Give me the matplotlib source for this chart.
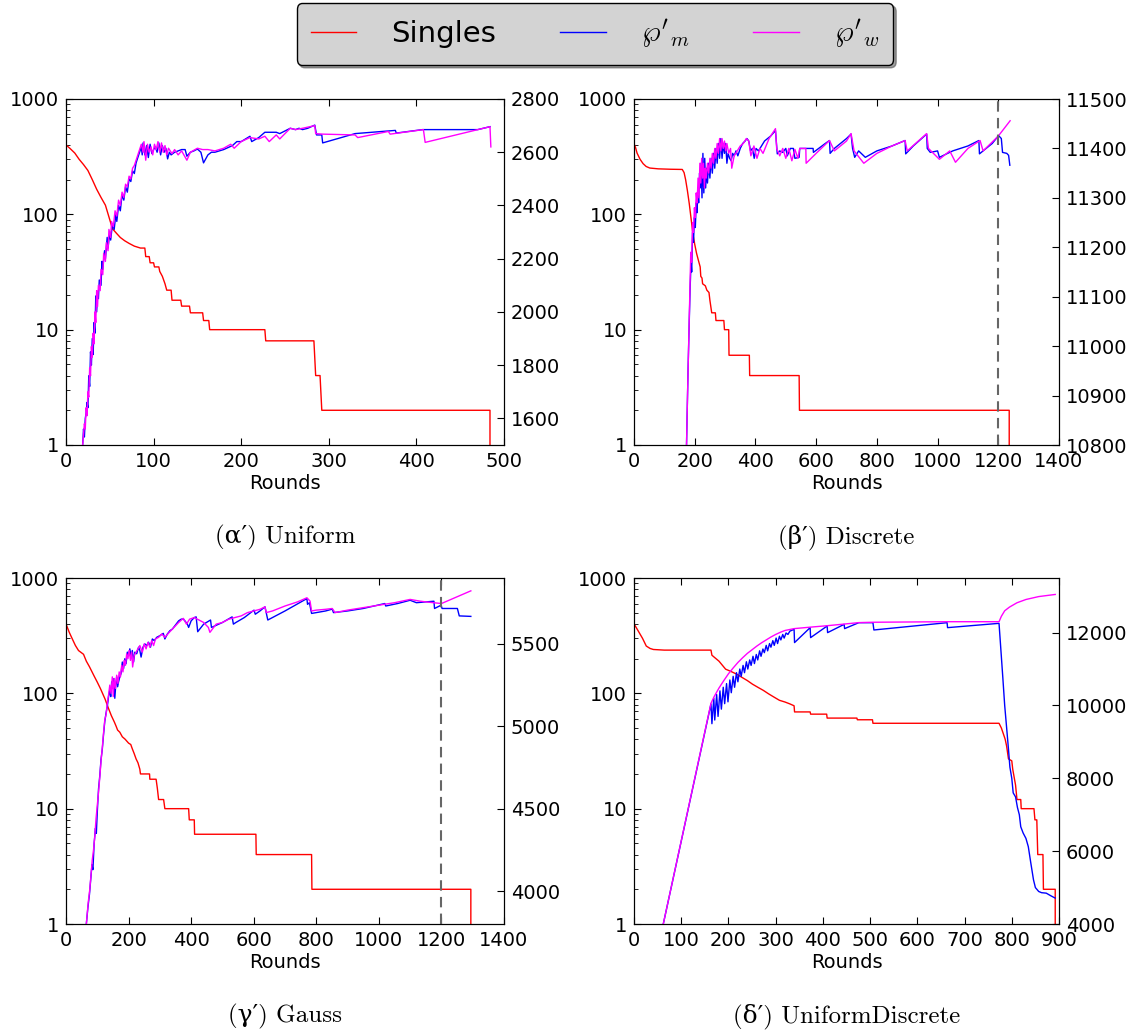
import numpy as np
import matplotlib
matplotlib.use("Agg")
import matplotlib.pyplot as plt
from matplotlib.ticker import FuncFormatter, LogLocator, MultipleLocator

plt.rcParams['mathtext.fontset'] = 'cm'
plt.rcParams['font.size'] = 14

# ---------------- data ----------------

# (a') Uniform
uni_singles_x = [0, 5, 10, 15, 20, 25, 30, 35, 40, 45, 49, 53, 58, 62, 67, 72, 78, 85, 90, 91, 95, 96, 100, 101,
                 106, 107, 110, 113, 115, 120, 121, 131, 132, 141, 142, 156, 157, 163, 164, 227, 228, 283, 285, 290,
                 292, 484, 484]
uni_singles_y = [400, 370, 340, 300, 270, 240, 200, 165, 140, 120, 95, 75, 68, 63, 59, 56, 53, 51, 51, 43, 43, 38, 38, 35,
                 35, 32, 29, 25, 22, 22, 18, 18, 16, 16, 14, 14, 12, 12, 10, 10, 8, 8, 4, 4,
                 2, 2, 1]
uni_m_x = [19, 20, 21, 22, 23, 24, 25, 26, 27, 28, 29, 30, 31, 32, 33, 34, 35, 36, 37, 38, 40, 41, 42, 44, 45, 47, 48,
           50, 51, 53, 55, 57, 58, 60, 62, 64, 66, 68, 70, 72, 74, 76, 78, 80, 82, 84, 86, 87, 88, 90, 92, 94, 96, 98,
           100, 102, 104, 106, 108, 110, 112, 114, 116, 118, 120, 124, 128, 132, 136, 138, 142, 146, 150, 154, 157,
           162, 166, 170, 175, 180, 190, 195, 200, 205, 210, 212, 220, 227, 240, 244, 250, 256, 262, 266, 270, 276,
           284, 286, 292, 293, 330, 376, 377, 407, 470, 484]
uni_m_y = [1500, 1560, 1530, 1600, 1620, 1660, 1640, 1760, 1720, 1850, 1800, 1900, 1840, 1960, 1920, 2060, 2000, 2070,
           2050, 2120, 2100, 2190, 2160, 2230, 2200, 2280, 2240, 2300, 2270, 2330, 2310, 2370, 2340, 2400, 2380, 2440,
           2420, 2470, 2450, 2500, 2490, 2530, 2520, 2560, 2580, 2600, 2620, 2590, 2635, 2590, 2625, 2580, 2630, 2595,
           2610, 2620, 2600, 2635, 2590, 2625, 2600, 2615, 2575, 2600, 2590, 2600, 2605, 2610, 2610, 2585, 2600, 2605,
           2612, 2600, 2560, 2590, 2600, 2600, 2605, 2610, 2625, 2640, 2640, 2650, 2660, 2640, 2655, 2675, 2675, 2670,
           2680, 2690, 2685, 2690, 2685, 2690, 2702, 2665, 2665, 2635, 2670, 2682, 2672, 2685, 2685, 2696]
uni_w_x = [19, 20, 21, 22, 23, 24, 25, 26, 27, 28, 29, 30, 31, 32, 33, 34, 35, 36, 37, 39, 40, 42, 43, 45, 46, 48, 49,
           51, 52, 54, 56, 58, 60, 62, 64, 66, 68, 70, 72, 74, 76, 78, 80, 82, 84, 86, 88, 89, 91, 93, 95, 97, 99, 101,
           103, 105, 107, 109, 111, 113, 115, 117, 121, 124, 128, 132, 138, 142, 150, 156, 162, 170, 180, 188, 192,
           200, 210, 220, 227, 232, 240, 244, 250, 256, 262, 270, 284, 285, 293, 330, 333, 368, 370, 408, 410, 484, 485]
uni_w_y = [1500, 1540, 1580, 1560, 1640, 1610, 1700, 1680, 1790, 1760, 1870, 1830, 1920, 1880, 2000, 1960, 2080, 2020,
           2100, 2080, 2160, 2140, 2220, 2190, 2260, 2230, 2310, 2280, 2340, 2320, 2380, 2360, 2420, 2400, 2450, 2430,
           2480, 2470, 2510, 2500, 2540, 2550, 2570, 2590, 2610, 2630, 2600, 2640, 2570, 2630, 2600, 2620, 2590, 2630,
           2610, 2640, 2600, 2635, 2600, 2625, 2590, 2615, 2595, 2610, 2590, 2605, 2570, 2600, 2615, 2610, 2610, 2605,
           2615, 2630, 2615, 2640, 2655, 2650, 2660, 2640, 2665, 2650, 2670, 2690, 2685, 2690, 2700, 2670, 2668, 2665,
           2655, 2678, 2668, 2685, 2637, 2696, 2620]

# (b') Discrete
dis_singles_x = [0, 5, 10, 20, 30, 40, 52, 80, 120, 159, 165, 170, 176, 182, 188, 194, 200, 206, 212, 218, 220, 224,
                 226, 235, 240, 247, 250, 256, 268, 270, 296, 298, 312, 313, 380, 381, 544, 545, 1236, 1236]
dis_singles_y = [410, 380, 340, 300, 275, 260, 252, 248, 246, 245, 230, 200, 160, 124, 92, 68, 55, 46, 40, 35, 29, 28,
                 25, 24, 22, 21, 18, 14, 14, 12, 12, 10, 10, 6, 6, 4, 4, 2, 2, 1]
dis_m_x = [173, 178, 182, 185, 188, 190, 193, 196, 199, 202, 205, 208, 210, 213, 216, 218, 221, 224, 227, 230, 233,
           236, 239, 242, 246, 250, 254, 258, 262, 266, 270, 274, 278, 282, 286, 290, 294, 298, 302, 306, 310, 315,
           320, 325, 330, 336, 342, 350, 358, 366, 372, 378, 384, 390, 396, 402, 410, 420, 430, 440, 450, 466, 472,
           480, 490, 500, 505, 515, 525, 530, 544, 546, 590, 591, 630, 644, 646, 660, 700, 715, 720, 727, 740, 762,
           800, 850, 893, 895, 920, 964, 966, 976, 1000, 1006, 1050, 1100, 1136, 1138, 1180, 1201, 1210, 1214, 1228,
           1234, 1238]
dis_m_y = [10800, 10950, 11050, 11120, 11170, 11150, 11230, 11210, 11260, 11240, 11290, 11270, 11320, 11290, 11350,
           11320, 11370, 11300, 11390, 11310, 11380, 11320, 11360, 11330, 11370, 11340, 11380, 11350, 11390, 11360,
           11400, 11370, 11410, 11380, 11420, 11380, 11410, 11390, 11410, 11370, 11390, 11380, 11375, 11390, 11385,
           11395, 11385, 11400, 11410, 11415, 11420, 11415, 11395, 11400, 11380, 11400, 11395, 11405, 11415, 11420,
           11425, 11436, 11389, 11395, 11392, 11400, 11385, 11400, 11400, 11380, 11382, 11400, 11400, 11392, 11410,
           11416, 11390, 11400, 11420, 11429, 11400, 11382, 11395, 11382, 11395, 11405, 11416, 11389, 11405, 11429,
           11400, 11392, 11395, 11382, 11395, 11405, 11416, 11389, 11410, 11426, 11420, 11392, 11390, 11386, 11366]
dis_w_x = [173, 177, 181, 184, 187, 190, 193, 196, 199, 202, 205, 208, 211, 214, 217, 220, 223, 226, 229, 232, 235,
           238, 242, 246, 250, 254, 258, 262, 266, 270, 274, 278, 282, 286, 290, 294, 298, 302, 306, 312, 318, 322,
           330, 340, 350, 360, 370, 378, 385, 395, 405, 415, 425, 435, 445, 466, 470, 480, 490, 500, 510, 520, 530,
           540, 546, 566, 567, 600, 644, 660, 700, 715, 725, 757, 800, 850, 893, 900, 964, 970, 1006, 1040, 1059,
           1100, 1140, 1150, 1200, 1239]
dis_w_y = [10800, 10920, 11030, 11110, 11190, 11170, 11250, 11230, 11280, 11260, 11310, 11290, 11340, 11300, 11370,
           11330, 11380, 11340, 11370, 11320, 11360, 11340, 11370, 11350, 11380, 11360, 11390, 11370, 11400, 11380,
           11410, 11390, 11420, 11395, 11420, 11400, 11415, 11395, 11410, 11390, 11400, 11360, 11385, 11395, 11405,
           11410, 11420, 11415, 11385, 11405, 11380, 11400, 11390, 11405, 11420, 11440, 11400, 11385, 11400, 11380,
           11400, 11375, 11398, 11380, 11400, 11400, 11370, 11390, 11416, 11395, 11415, 11430, 11395, 11370, 11390,
           11405, 11416, 11395, 11430, 11400, 11378, 11395, 11372, 11400, 11416, 11395, 11425, 11456]

# (c') Gauss
gau_singles_x = [0, 10, 21, 30, 40, 56, 65, 75, 90, 100, 110, 125, 135, 145, 155, 160, 165, 172, 180, 189, 200, 207,
                 212, 218, 224, 230, 236, 238, 267, 268, 288, 292, 296, 312, 316, 392, 394, 410, 411, 607, 608, 785,
                 786, 1294, 1294]
gau_singles_y = [400, 340, 293, 260, 235, 218, 190, 170, 141, 125, 110, 89, 75, 64, 56, 52, 48, 46, 42, 40, 37, 36,
                 33, 30, 27, 25, 22, 20, 20, 18, 18, 15, 12, 12, 10, 10, 8, 8, 6, 6, 4, 4,
                 2, 2, 1]
gau_m_x = [65, 70, 75, 79, 83, 86, 90, 94, 97, 100, 104, 108, 112, 116, 120, 124, 128, 132, 136, 140, 143, 146, 150,
           153, 156, 159, 162, 165, 168, 172, 176, 180, 184, 188, 192, 196, 200, 204, 208, 212, 216, 220, 226, 232,
           236, 240, 246, 252, 258, 264, 270, 276, 282, 290, 300, 311, 316, 324, 332, 340, 346, 352, 360, 368, 375,
           380, 388, 392, 400, 410, 416, 421, 440, 462, 465, 500, 531, 535, 543, 570, 601, 605, 620, 636, 645, 700,
           770, 772, 778, 785, 830, 851, 855, 900, 950, 1019, 1022, 1060, 1100, 1120, 1150, 1176, 1178, 1199, 1202,
           1251, 1257, 1294]
gau_m_y = [3800, 3900, 3980, 4070, 4160, 4130, 4290, 4380, 4350, 4480, 4620, 4700, 4800, 4860, 4950, 5030, 5080, 5120,
           5180, 5220, 5180, 5270, 5230, 5290, 5170, 5250, 5300, 5240, 5270, 5300, 5320, 5390, 5350, 5410, 5380, 5450,
           5430, 5470, 5420, 5460, 5390, 5450, 5440, 5480, 5460, 5420, 5480, 5500, 5490, 5510, 5480, 5530, 5520, 5540,
           5550, 5564, 5530, 5560, 5580, 5590, 5605, 5620, 5640, 5650, 5651, 5640, 5620, 5600, 5640, 5660, 5664, 5574,
           5620, 5645, 5600, 5630, 5664, 5620, 5630, 5660, 5705, 5680, 5700, 5725, 5645, 5700, 5775, 5740, 5750, 5685,
           5700, 5711, 5690, 5700, 5715, 5745, 5730, 5745, 5765, 5750, 5755, 5759, 5715, 5735, 5715, 5715, 5670, 5667]
gau_w_x = [65, 71, 76, 80, 84, 88, 92, 96, 100, 104, 108, 112, 116, 120, 124, 128, 132, 136, 140, 144, 148, 151, 154,
           158, 162, 166, 170, 174, 178, 182, 186, 190, 194, 198, 202, 206, 210, 213, 218, 224, 230, 236, 244, 250,
           256, 262, 268, 274, 280, 286, 296, 306, 316, 330, 345, 360, 375, 385, 395, 410, 420, 440, 455, 460, 480,
           500, 520, 540, 560, 580, 600, 620, 636, 640, 660, 700, 740, 770, 780, 785, 800, 830, 851, 860, 900, 950,
           1000, 1050, 1100, 1130, 1150, 1200, 1294]
gau_w_y = [3800, 3930, 4010, 4100, 4190, 4250, 4330, 4440, 4520, 4600, 4690, 4790, 4870, 4960, 5040, 5070, 5140, 5190,
           5250, 5200, 5300, 5180, 5290, 5230, 5310, 5260, 5330, 5300, 5370, 5330, 5400, 5370, 5440, 5410, 5460, 5400,
           5450, 5360, 5430, 5450, 5470, 5490, 5450, 5500, 5470, 5510, 5480, 5520, 5490, 5530, 5540, 5560, 5540, 5570,
           5600, 5630, 5655, 5620, 5650, 5660, 5650, 5630, 5600, 5570, 5620, 5630, 5650, 5660, 5670, 5690, 5700, 5710,
           5725, 5690, 5700, 5730, 5755, 5780, 5760, 5700, 5705, 5710, 5715, 5690, 5705, 5720, 5735, 5750, 5770, 5760,
           5755, 5745, 5822]

# (d') UniformDiscrete
ud_singles_x = [0, 5, 11, 18, 26, 34, 41, 64, 163, 165, 171, 180, 194, 205, 217, 228, 240, 251, 262, 274, 285, 296,
                308, 320, 330, 339, 340, 373, 374, 408, 409, 472, 473, 505, 506, 773, 778, 781, 786, 789, 793, 800,
                802, 808, 811, 819, 820, 847, 849, 853, 855, 866, 867, 892, 892]
ud_singles_y = [400, 370, 336, 300, 257, 245, 240, 237, 237, 214, 204, 190, 162, 155, 147, 138, 129, 120, 113, 106, 99,
                93, 87, 84, 81, 78, 69, 69, 66, 66, 61, 61, 59, 59, 55, 55, 50, 46, 40, 35, 27, 26,
                22, 16, 12, 12, 10, 10, 8, 8, 4, 4, 2, 2, 1]
ud_m_x = [62, 163, 165, 169, 171, 175, 178, 182, 185, 189, 192, 196, 199, 203, 206, 210, 213, 217, 220, 224, 227, 231,
          234, 238, 241, 245, 248, 252, 255, 259, 262, 266, 269, 273, 276, 280, 283, 287, 290, 294, 297, 301, 304, 308,
          311, 315, 318, 322, 326, 330, 339, 340, 373, 374, 409, 410, 445, 446, 476, 506, 508, 663, 664, 773, 776,
          781, 785, 789, 793, 796, 800, 803, 808, 812, 816, 819, 824, 830, 835, 840, 846, 850, 857, 863, 873, 882,
          892]
ud_m_y = [4000, 10040, 9500, 10200, 9600, 10300, 9700, 10400, 9900, 10500, 10050, 10600, 10100, 10700, 10350, 10800,
          10500, 10900, 10650, 11000, 10800, 11100, 10900, 11200, 11000, 11250, 11100, 11350, 11150, 11400, 11250,
          11500, 11350, 11550, 11450, 11650, 11500, 11700, 11600, 11780, 11650, 11850, 11700, 11900, 11800, 11950,
          11850, 11990, 11950, 12040, 12091, 11727, 12137, 11863, 12182, 12000, 12228, 12110, 12273, 12273, 12073,
          12273, 12137, 12255, 11700, 10770, 10000, 9403, 8800, 8310, 8000, 7600, 7490, 7200, 7000, 6670, 6500, 6350,
          6123, 5700, 5212, 5000, 4893, 4860, 4847, 4780, 4711]
ud_w_x = [62, 163, 170, 180, 190, 200, 210, 220, 230, 240, 250, 260, 270, 280, 290, 300, 310, 320, 339, 373, 409, 445,
          476, 506, 663, 773, 778, 785, 795, 811, 830, 857, 892]
ud_w_y = [4000, 10060, 10250, 10480, 10680, 10870, 11030, 11180, 11310, 11430, 11530, 11630, 11720, 11800, 11880,
          11950, 12010, 12060, 12110, 12150, 12190, 12235, 12275, 12285, 12300, 12300, 12450, 12600, 12700, 12820,
          12910, 12990, 13048]

captions = [u"(\u03b1\u2032) Uniform", u"(\u03b2\u2032) Discrete", u"(\u03b3\u2032) Gauss", u"(\u03b4\u2032) UniformDiscrete"]
legend_labels = ["Singles", r"$\wp'_m$", r"$\wp'_w$"]

# ---------------- figure ----------------
fig = plt.figure(figsize=(11.34, 10.31), dpi=100)

W, H = 1134.0, 1031.0
# axes boxes in pixels: left, right, top, bottom
boxes = [(66, 504, 99, 445), (634, 1059, 99, 445), (66, 504, 578, 924), (634, 1059, 578, 924)]

panels = [
    (uni_singles_x, uni_singles_y, uni_m_x, uni_m_y, uni_w_x, uni_w_y, 500, 100, (1500, 2800), 200, None),
    (dis_singles_x, dis_singles_y, dis_m_x, dis_m_y, dis_w_x, dis_w_y, 1400, 200, (10800, 11500), 100, 1200),
    (gau_singles_x, gau_singles_y, gau_m_x, gau_m_y, gau_w_x, gau_w_y, 1400, 200, (3800, 5900), 500, 1200),
    (ud_singles_x, ud_singles_y, ud_m_x, ud_m_y, ud_w_x, ud_w_y, 900, 100, (4000, 13500), 2000, None),
]

handles = None
for (l, r, t, b), p, cap in zip(boxes, panels, captions):
    sx, sy, mx, my, wx, wy, xmax, xstep, rlim, rstep, vline = p
    ax = fig.add_axes([l / W, 1 - b / H, (r - l) / W, (b - t) / H])
    ax2 = ax.twinx()

    h1, = ax.plot(sx, sy, color='red', lw=1)
    ax.set_yscale('log')
    ax.set_ylim(1, 1000)
    ax.set_xlim(0, xmax)
    ax.xaxis.set_major_locator(MultipleLocator(xstep))
    ax.yaxis.set_major_locator(LogLocator(base=10))
    ax.yaxis.set_minor_locator(LogLocator(base=10, subs=np.arange(2, 10)))
    ax.yaxis.set_major_formatter(FuncFormatter(lambda v, pos: "%d" % v))
    ax.set_xlabel("Rounds", fontsize=14, labelpad=2)
    ax.tick_params(which='both', direction='in', top=True, labelsize=14, pad=5)
    ax.tick_params(which='major', length=5)
    ax.tick_params(which='minor', length=3)

    h2, = ax2.plot(mx, my, color='blue', lw=1)
    h3, = ax2.plot(wx, wy, color='magenta', lw=1)
    ax2.set_ylim(*rlim)
    ax2.yaxis.set_major_locator(MultipleLocator(rstep))
    ax2.tick_params(direction='in', labelsize=14, length=5, pad=5)
    if vline is not None:
        ax2.axvline(vline, color='0.4', ls='--', lw=1.5, dashes=(5, 3))

    # sub-figure caption under each panel
    fig.text((l + r) / 2 / W, 1 - (b + 92) / H, cap, ha='center', va='center',
             fontsize=18, family=['cmr10', 'DejaVu Serif'])
    handles = [h1, h2, h3]

leg = fig.legend(handles, legend_labels, loc='center', bbox_to_anchor=(595 / W, 1 - 34 / H), ncol=3,
                 fontsize=21, handlelength=1.55, handletextpad=1.2, columnspacing=2.2,
                 fancybox=True, shadow=True, framealpha=1, borderpad=0.5)
leg.get_frame().set_facecolor('lightgray')
leg.get_frame().set_edgecolor('black')

fig.savefig("out.png", dpi=100, facecolor='white')
